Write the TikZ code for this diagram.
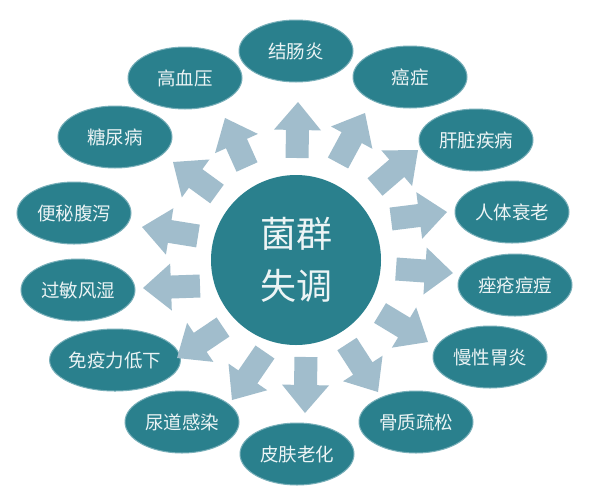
\documentclass[tikz,border=0pt]{standalone}
\usepackage{fontspec}
\newfontfamily\cjk{Noto Sans CJK SC}
\usetikzlibrary{calc,shapes.geometric}
\definecolor{tealc}{RGB}{42,128,141}
\definecolor{tealedge}{RGB}{120,175,185}
\definecolor{arrowc}{RGB}{161,189,204}
\definecolor{txtc}{RGB}{236,244,245}
\tikzset{
  disease/.style={ellipse, fill=tealc, draw=tealedge, line width=1pt,
    minimum width=114pt, minimum height=62pt, inner sep=0pt, text=txtc,
    font=\cjk\fontsize{18.5}{18.5}\selectfont},
  hub/.style={circle, fill=tealc, minimum size=170pt, inner sep=0pt, text=txtc,
    align=center, font=\cjk\fontsize{36}{52}\selectfont},
  fatarrow/.style={fill=arrowc}
}
\newcommand\fatarr[3]{%
  \coordinate (#1b) at ($(#3)!28pt!(#2)$);
  \fill[fatarrow] ($(#2)!11.5pt!90:(#3)$) -- ($(#1b)!11.5pt!90:(#3)$) --
    ($(#1b)!23.5pt!90:(#3)$) -- (#3) -- ($(#1b)!23.5pt!-90:(#3)$) --
    ($(#1b)!11.5pt!-90:(#3)$) -- ($(#2)!11.5pt!-90:(#3)$) -- cycle;}
\begin{document}
\begin{tikzpicture}[x=1pt,y=-1pt]
\useasboundingbox[fill=white] (0,0) rectangle (599,488);
\node[hub] (hub) at (296,260) {菌群\\失调};
\node[disease] (d1) at (296,51) {结肠炎};
\node[disease] (d2) at (410,77) {癌症};
\node[disease] (d3) at (476,140) {肝脏疾病};
\node[disease] (d4) at (512,212) {人体衰老};
\node[disease] (d5) at (515,285) {痤疮痘痘};
\node[disease] (d6) at (490,357) {慢性胃炎};
\node[disease] (d7) at (416,422) {骨质疏松};
\node[disease] (d8) at (297,454) {皮肤老化};
\node[disease] (d9) at (182,422) {尿道感染};
\node[disease] (d10) at (115,360) {免疫力低下};
\node[disease] (d11) at (78,290) {过敏风湿};
\node[disease] (d12) at (74,213) {便秘腹泻};
\node[disease] (d13) at (115,137) {糖尿病};
\node[disease] (d14) at (185,78) {高血压};
% arrow tails and tips
\coordinate (t1) at (297,158);  \coordinate (p1) at (298,102);
\coordinate (t2) at (338,163);  \coordinate (p2) at (365,113);
\coordinate (t3) at (375,187);  \coordinate (p3) at (418,150);
\coordinate (t4) at (391,219);  \coordinate (p4) at (447,212);
\coordinate (t5) at (396,269);  \coordinate (p5) at (453,273);
\coordinate (t6) at (380,313);  \coordinate (p6) at (428,342);
\coordinate (t7) at (347,344);  \coordinate (p7) at (378,392);
\coordinate (t8) at (306,357);  \coordinate (p8) at (305,413);
\coordinate (t9) at (265,352);  \coordinate (p9) at (232,400);
\coordinate (t10) at (223,327); \coordinate (p10) at (177,358);
\coordinate (t11) at (200,286); \coordinate (p11) at (143,288);
\coordinate (t12) at (198,236); \coordinate (p12) at (142,227);
\coordinate (t13) at (217,194); \coordinate (p13) at (173,162);
\coordinate (t14) at (247,167); \coordinate (p14) at (225,118);
\fatarr{a1}{t1}{p1}
\fatarr{a2}{t2}{p2}
\fatarr{a3}{t3}{p3}
\fatarr{a4}{t4}{p4}
\fatarr{a5}{t5}{p5}
\fatarr{a6}{t6}{p6}
\fatarr{a7}{t7}{p7}
\fatarr{a8}{t8}{p8}
\fatarr{a9}{t9}{p9}
\fatarr{a10}{t10}{p10}
\fatarr{a11}{t11}{p11}
\fatarr{a12}{t12}{p12}
\fatarr{a13}{t13}{p13}
\fatarr{a14}{t14}{p14}
\end{tikzpicture}
\end{document}
